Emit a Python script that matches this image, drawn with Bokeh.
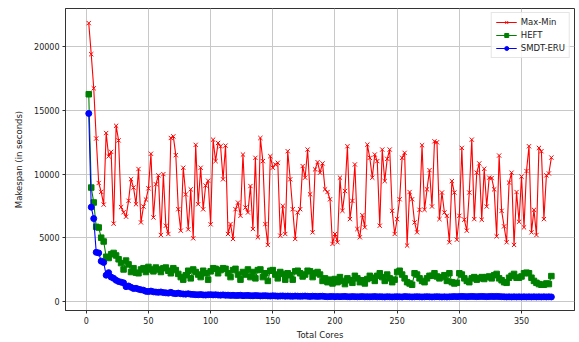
from bokeh.plotting import figure
from bokeh.models import Range1d, FixedTicker
from bokeh.embed import file_html
from bokeh.resources import INLINE

total_cores = list(range(2, 376, 2))

max_min = [
    21875, 19430, 16750, 12800, 9300, 8600, 7600, 13230, 11400, 11750,
    6100, 13800, 12650, 7400, 7000, 6650, 7900, 9600, 8940, 7630,
    10400, 6200, 7450, 8000, 8880, 11600, 6590, 9200, 9900, 5210,
    10000, 5940, 5290, 12840, 12970, 11490, 7240, 5550, 10500, 8400,
    5650, 8800, 4950, 12300, 7630, 10500, 7230, 9100, 9480, 6050,
    12710, 11020, 12450, 12190, 9590, 12240, 5290, 6070, 4900, 7240,
    7760, 6720, 11540, 7370, 6980, 9060, 5680, 11280, 5030, 12840,
    11020, 6070, 4430, 11410, 10500, 10760, 10890, 5160, 7500, 5290,
    11800, 9590, 7240, 4900, 6980, 7240, 10630, 9720, 11930, 8410,
    5420, 10370, 10940, 10110, 10840, 8800, 8590, 8020, 4510, 5290,
    4640, 9720, 7110, 8670, 12190, 6460, 7890, 10760, 5680, 5030,
    6770, 5810, 12320, 11280, 9720, 11540, 11020, 5940, 11930, 9450,
    11200, 11930, 7110, 5290, 6460, 8020, 11280, 11670, 4380, 8590,
    8020, 6200, 5420, 7190, 12270, 7190, 8800, 10310, 7450, 12580,
    12500, 6460, 8550, 6980, 6720, 4640, 9450, 8550, 4840, 6720,
    12060, 6410, 5550, 8550, 12710, 6460, 10110, 10840, 6410, 10420,
    7450, 9720, 9690, 8800, 5110, 11460, 7110, 5890, 4640, 9330,
    10110, 4430, 8590, 6250, 9800, 5810, 10240, 12190, 5420, 7190,
    5210, 12060, 11800, 6460, 9900, 10050, 11300,
]

heft = [
    16280, 8940, 7770, 5850, 5800, 5000, 4700, 3500, 3400, 3700,
    3800, 3600, 3300, 3000, 2500, 3200, 2900, 2300, 2600, 2250,
    2200, 2500, 2600, 2300, 2700, 2500, 2350, 2650, 2500, 2300,
    2600, 2650, 2400, 2200, 2600, 2450, 2150, 1900, 1700, 2050,
    2400, 1800, 2500, 2300, 2100, 1900, 2400, 2200, 1700, 2350,
    2600, 2550, 2200, 2450, 2600, 2550, 2200, 1900, 2450, 2550,
    2100, 1700, 2300, 2100, 2500, 1900, 2300, 1800, 2450, 2500,
    1900, 2200, 1600, 2400, 2450, 2100, 1800, 2300, 2150, 1700,
    2200, 2050, 1700, 2350, 2400, 2200, 1950, 2100, 2400, 2350,
    1900, 2200, 2300, 2100, 1600, 1800, 1500, 1700, 1400, 1750,
    1500, 1900, 1600, 1350, 1800, 1650, 1450, 2000, 1800, 1500,
    1650, 1400, 1750, 2000, 1850, 1600, 2000, 2200, 1900, 1600,
    2100, 1800, 1500, 1700, 2300, 2400, 2100, 1800, 1500, 1400,
    1300, 2200, 2100, 1800, 1600, 1500, 1800, 2000, 2000, 2200,
    1950, 1800, 1900, 2050, 1600, 2200, 1500, 1400, 1450, 2200,
    2100, 1800, 1600, 1500, 1800, 1900, 1700, 1800, 1900, 1750,
    1900, 1950, 1800, 2050, 2150, 1800, 1650, 1500, 1450, 1850,
    2000, 2150, 1850, 1850, 1950, 2200, 2250, 2200, 1850, 1600,
    1450, 1350, 1300, 1300, 1400, 1350, 1980,
]

smdt_eru = [
    14770, 7400, 6500, 3850, 3800, 3150, 3050, 2050, 2250, 1900,
    1800, 1650, 1550, 1500, 1450, 1150, 1200, 1100, 1000, 1020,
    950, 900, 870, 780, 760, 800, 740, 720, 700, 730,
    680, 660, 640, 700, 620, 600, 640, 590, 570, 560,
    590, 550, 540, 520, 510, 530, 500, 490, 510, 520,
    500, 510, 490, 480, 500, 470, 480, 460, 470, 450,
    460, 470, 440, 450, 460, 440, 430, 450, 440, 420,
    430, 440, 420, 410, 430, 420, 400, 410, 420, 400,
    410, 400, 390, 410, 400, 390, 400, 410, 390, 380,
    400, 390, 380, 390, 400, 370, 360, 370, 380, 360,
    370, 360, 370, 380, 360, 350, 370, 360, 350, 360,
    370, 350, 360, 350, 360, 370, 350, 360, 350, 340,
    360, 350, 340, 350, 360, 350, 340, 370, 360, 350,
    340, 350, 360, 350, 340, 350, 360, 350, 340, 350,
    360, 350, 340, 350, 340, 350, 360, 370, 360, 370,
    380, 370, 360, 370, 380, 370, 360, 370, 380, 370,
    360, 370, 380, 370, 380, 370, 360, 350, 340, 350,
    340, 350, 340, 350, 340, 350, 340, 350, 340, 350,
    340, 350, 340, 350, 340, 350, 340,
]

x_ticks = [0, 50, 100, 150, 200, 250, 300, 350]
y_ticks = [0, 5000, 10000, 15000, 20000]
x_label = "Total Cores"
y_label = "Makespan (in seconds)"

n = min(len(total_cores), len(max_min), len(heft), len(smdt_eru))
xs = total_cores[:n]

FONT = "DejaVu Sans"
TICK_FS = "8px"
LABEL_FS = "8.5px"

p = figure(width=579, height=342, output_backend="svg", toolbar_location=None,
           x_range=Range1d(-16.7, 392.6), y_range=Range1d(-727, 23023),
           min_border_left=65, min_border_right=5,
           min_border_top=8, min_border_bottom=30)

p.background_fill_color = "white"
p.border_fill_color = "white"
p.outline_line_color = "#333333"
p.outline_line_width = 1

for ax in (p.xaxis[0], p.yaxis[0]):
    ax.axis_line_color = "#333333"
    ax.major_tick_line_color = "#333333"
    ax.major_tick_out = 3
    ax.major_tick_in = 0
    ax.minor_tick_line_color = None
    ax.major_label_text_font = FONT
    ax.major_label_text_font_size = TICK_FS
    ax.major_label_text_color = "#222222"
    ax.axis_label_text_font = FONT
    ax.axis_label_text_font_size = LABEL_FS
    ax.axis_label_text_font_style = "normal"
    ax.axis_label_text_color = "#222222"
    ax.major_label_standoff = 3

p.xaxis.ticker = FixedTicker(ticks=x_ticks)
p.yaxis.ticker = FixedTicker(ticks=y_ticks)
p.xaxis.axis_label = x_label
p.xaxis.axis_label_standoff = 3
p.yaxis.axis_label = y_label
p.yaxis.axis_label_standoff = 7

p.xgrid.ticker = FixedTicker(ticks=x_ticks)
p.ygrid.ticker = FixedTicker(ticks=y_ticks)
p.grid.grid_line_color = "#c8c8c8"
p.grid.grid_line_width = 1

p.line(xs, max_min[:n], line_color="#ff0000", line_width=1.1, legend_label="Max-Min")
p.scatter(xs, max_min[:n], marker="x", size=6, line_color="#ff0000", line_width=1,
          legend_label="Max-Min")

p.line(xs, heft[:n], line_color="#008000", line_width=1.1, legend_label="HEFT")
p.scatter(xs, heft[:n], marker="square", size=5.5, fill_color="#008000", line_color="#008000",
          legend_label="HEFT")

p.line(xs, smdt_eru[:n], line_color="#0000ff", line_width=1.1, legend_label="SMDT-ERU")
p.scatter(xs, smdt_eru[:n], marker="circle", size=6, fill_color="#0000ff", line_color="#0000ff",
          legend_label="SMDT-ERU")

lg = p.legend[0]
lg.location = "top_right"
lg.margin = 4
lg.padding = 4
lg.spacing = 3
lg.glyph_width = 21
lg.glyph_height = 10
lg.label_height = 10
lg.label_standoff = 4
lg.label_text_font = FONT
lg.label_text_font_size = LABEL_FS
lg.label_text_color = "#222222"
lg.border_line_color = "#cccccc"
lg.border_line_width = 1
lg.background_fill_alpha = 0.85

open("out.html", "w").write(file_html(p, INLINE))
